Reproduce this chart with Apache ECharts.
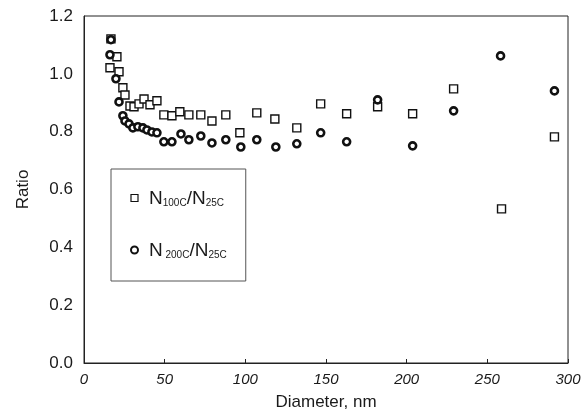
<!DOCTYPE html>
<html>
<head>
<meta charset="utf-8">
<script src="https://cdn.jsdelivr.net/npm/echarts@6/dist/echarts.min.js"></script>
<style>
  html, body { margin: 0; padding: 0; background: #fff; }
  #chart { width: 586px; height: 418px; }
</style>
</head>
<body>
<div id="chart"></div>
<script>
// N100C/N25C (squares)
var d100 = [16.7, 16.1, 20.4, 21.7, 24.1, 25.4, 28.5, 31.0, 34.1, 37.2, 40.9, 45.2, 49.5, 54.5, 59.4, 65.0,
            72.4, 79.3, 87.9, 96.6, 107.1, 118.3, 131.9, 146.7, 162.8, 182.0, 203.7, 229.1, 258.8, 291.6];
var r100 = [1.121, 1.021, 1.059, 1.007, 0.952, 0.927, 0.889, 0.886, 0.896, 0.913, 0.893, 0.907, 0.858, 0.855, 0.869, 0.858,
            0.858, 0.837, 0.858, 0.796, 0.865, 0.844, 0.813, 0.896, 0.862, 0.886, 0.862, 0.948, 0.533, 0.782];
// N200C/N25C (circles)
var d200 = [16.7, 16.1, 19.8, 21.7, 24.1, 25.4, 27.9, 30.3, 33.4, 36.5, 39.0, 42.1, 45.2, 49.5, 54.5, 60.1,
            65.0, 72.4, 79.3, 87.9, 97.2, 107.1, 118.9, 131.9, 146.7, 162.8, 182.0, 203.7, 229.1, 258.2, 291.6];
var r200 = [1.118, 1.066, 0.983, 0.903, 0.855, 0.837, 0.827, 0.813, 0.817, 0.813, 0.806, 0.799, 0.796, 0.765, 0.765, 0.792,
            0.772, 0.785, 0.761, 0.772, 0.747, 0.772, 0.747, 0.758, 0.796, 0.765, 0.910, 0.751, 0.872, 1.062, 0.941];

var xTicks = [0, 50, 100, 150, 200, 250, 300];
var yTicks = [0, 0.2, 0.4, 0.6, 0.8, 1.0, 1.2];

function pairs(xs, ys) {
    return xs.map(function (x, i) { return [x, ys[i]]; });
}

var font = 'Liberation Sans';
var ink = '#1a1a1a';
var chart = echarts.init(document.getElementById('chart'));

var option = {
    backgroundColor: '#fff',
    animation: false,
    textStyle: { fontFamily: font, color: ink },
    grid: {
        left: 84, top: 16, right: 18, bottom: 55,
        show: true, borderColor: '#222', borderWidth: 1, backgroundColor: 'transparent'
    },
    legend: {
        left: 111, top: 169,
        orient: 'vertical',
        padding: [20, 19, 21, 19],
        itemGap: 33,
        itemWidth: 7, itemHeight: 7,
        borderColor: '#555', borderWidth: 1,
        data: [
            { name: 's100', icon: 'rect', itemStyle: { borderWidth: 1.2 } },
            { name: 's200', icon: 'circle' }
        ],
        formatter: function (name) {
            if (name === 's100') return '{p|}{n|N}{s|100C}{n|/N}{s|25C}';
            return '{p|}{n|N}{s| 200C}{n|/N}{s|25C}';
        },
        textStyle: {
            fontFamily: font,
            color: ink,
            rich: {
                p: { width: 6, fontSize: 10 },
                n: { fontSize: 19, lineHeight: 20, fontFamily: font, color: ink, verticalAlign: 'bottom' },
                s: { fontSize: 10, lineHeight: 20, fontFamily: font, color: ink, verticalAlign: 'bottom' }
            }
        }
    },
    xAxis: {
        type: 'value',
        min: 0, max: 300, interval: 50,
        name: 'Diameter, nm',
        nameLocation: 'middle',
        nameGap: 31,
        nameTextStyle: { fontSize: 17, fontFamily: font, color: ink },
        axisLine: { show: true, lineStyle: { color: '#222', width: 1 } },
        axisTick: { show: true, inside: true, length: 4, lineStyle: { color: '#222' } },
        axisLabel: {
            fontSize: 15, fontStyle: 'italic', fontFamily: font, color: ink, margin: 9,
            formatter: function (v) { return xTicks.indexOf(v) >= 0 ? String(v) : ''; }
        },
        splitLine: { show: false }
    },
    yAxis: {
        type: 'value',
        min: 0, max: 1.2, interval: 0.2,
        name: 'Ratio',
        nameLocation: 'middle',
        nameGap: 52,
        nameTextStyle: { fontSize: 17, fontFamily: font, color: ink },
        axisLine: { show: true, lineStyle: { color: '#222', width: 1 } },
        axisTick: { show: false },
        axisLabel: {
            fontSize: 17, fontFamily: font, color: ink, margin: 11,
            formatter: function (v) { return yTicks.indexOf(+v.toFixed(1)) >= 0 ? v.toFixed(1) : ''; }
        },
        splitLine: { show: false }
    },
    series: [
        {
            name: 's100',
            type: 'scatter',
            symbol: 'rect',
            symbolSize: 8,
            itemStyle: { color: '#fff', borderColor: '#111', borderWidth: 1.4, opacity: 1 },
            data: pairs(d100, r100)
        },
        {
            name: 's200',
            type: 'scatter',
            symbol: 'circle',
            symbolSize: 7,
            itemStyle: { color: '#fff', borderColor: '#111', borderWidth: 2.6, opacity: 1 },
            data: pairs(d200, r200)
        }
    ]
};

chart.setOption(option);
</script>
</body>
</html>
